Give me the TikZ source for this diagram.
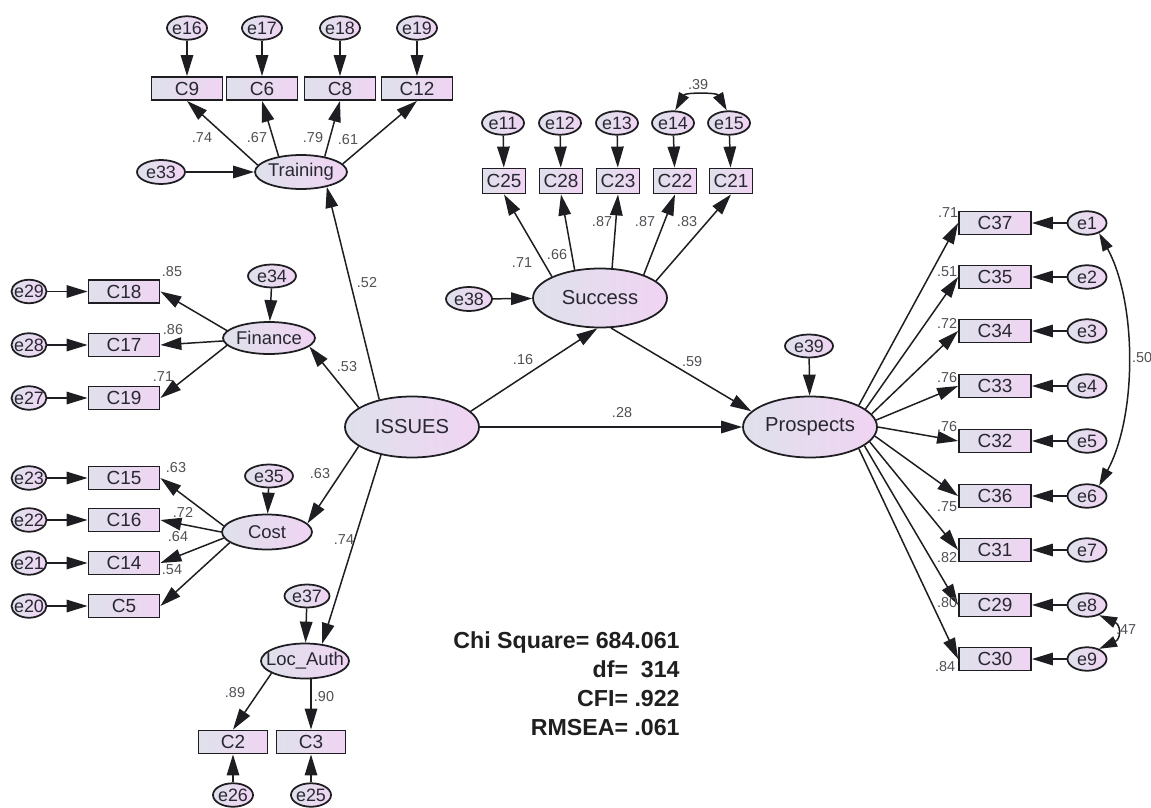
\documentclass[tikz,border=0pt]{standalone}
\usepackage{fontspec}
\setmainfont{Liberation Sans}
\usetikzlibrary{arrows.meta,shapes.geometric}
\definecolor{shadeleft}{RGB}{223,225,235}
\definecolor{shaderight}{RGB}{240,212,243}
\definecolor{rimgray}{RGB}{30,30,34}
\definecolor{inkgray}{RGB}{40,40,50}
\definecolor{coefgray}{RGB}{80,80,85}

\begin{document}
\begin{tikzpicture}[x=0.02cm, y=-0.02cm,
	latent/.style={ellipse, draw=rimgray, line width=1pt, left color=shadeleft, right color=shaderight, inner xsep=-5pt, inner ysep=0pt, text=inkgray},
	bigfactor/.style={latent, minimum width=2.68cm, minimum height=1.18cm, font=\fontsize{11.5}{13}\selectfont},
	factor/.style={latent, minimum width=1.8cm, minimum height=0.68cm, font=\fontsize{10.5}{12}\selectfont},
	resid/.style={latent, minimum width=0.8cm, minimum height=0.47cm, font=\fontsize{10.2}{11}\selectfont},
	residwide/.style={resid, minimum width=0.96cm, minimum height=0.48cm},
	residslim/.style={resid, minimum width=0.7cm},
	item/.style={rectangle, draw=rimgray, line width=1.05pt, left color=shadeleft, right color=shaderight, inner sep=0pt, minimum width=1.42cm, minimum height=0.46cm, font=\fontsize{10.8}{12}\selectfont, text=inkgray},
	itemsmall/.style={item, minimum width=0.86cm, minimum height=0.5cm},
	load/.style={draw=rimgray, line width=0.85pt, -{Triangle[length=0.42cm,width=0.25cm]}},
	covar/.style={draw=rimgray, line width=0.85pt, {Triangle[length=0.36cm,width=0.22cm]}-{Triangle[length=0.36cm,width=0.22cm]}},
	coef/.style={font=\fontsize{8.2}{9}\selectfont, text=coefgray, inner sep=0pt},
	fitline/.style={font=\bfseries\fontsize{13.2}{16}\selectfont, text=black!88, anchor=base east, inner sep=0pt}]
			%%%%% START %%%%%
			
			\useasboundingbox (0, 0) rectangle (1151, 807);
			
			% Training
			\node[resid] (e16) at (187, 28) {e16};
			\node[resid] (e17) at (262, 28) {e17};
			\node[resid] (e18) at (340, 28) {e18};
			\node[resid] (e19) at (417, 28) {e19};
			\node[item] (C9) at (187, 88.5) {C9};
			\node[item] (C6) at (262, 88.5) {C6};
			\node[item] (C8) at (340, 88.5) {C8};
			\node[item] (C12) at (417, 88.5) {C12};
			\node[factor, minimum width=1.84cm] (training) at (301, 172) {Training};
			\node[residwide] (e33) at (161, 172) {e33};
			
			\draw[load] (e16) -- (C9);
			\draw[load] (e17) -- (C6);
			\draw[load] (e18) -- (C8);
			\draw[load] (e19) -- (C12);
			\draw[load] (training.171) -- (C9.south);
			\draw[load] (training.145) -- (C6.south);
			\draw[load] (training.33) -- (C8.south);
			\draw[load] (training.11) -- (C12.south);
			\draw[load] (e33) -- (training);
			
			\node[coef] (l-c9) at (202, 138) {.74};
			\node[coef] (l-c6) at (257, 138) {.67};
			\node[coef] (l-c8) at (313, 138) {.79};
			\node[coef] (l-c12) at (348, 140) {.61};
			
			% Success
			\node[resid, minimum width=0.84cm] (e11) at (503, 123) {e11};
			\node[resid, minimum width=0.84cm] (e12) at (560, 123) {e12};
			\node[resid, minimum width=0.84cm] (e13) at (617, 123) {e13};
			\node[resid, minimum width=0.84cm] (e14) at (673, 123) {e14};
			\node[resid, minimum width=0.84cm] (e15) at (729, 123) {e15};
			\node[itemsmall] (C25) at (504, 181) {C25};
			\node[itemsmall] (C28) at (561, 181) {C28};
			\node[itemsmall] (C23) at (618, 181) {C23};
			\node[itemsmall] (C22) at (675, 181) {C22};
			\node[itemsmall] (C21) at (731, 181) {C21};
			\node[bigfactor] (success) at (600, 298) {Success};
			\node[residwide, minimum width=0.92cm] (e38) at (469, 299) {e38};
			
			\draw[load] (e11) -- (C25);
			\draw[load] (e12) -- (C28);
			\draw[load] (e13) -- (C23);
			\draw[load] (e14) -- (C22);
			\draw[load] (e15) -- (C21);
			\draw[covar] (e14.80) .. controls +(10, -18) and +(-10, -18) .. (e15.100);
			\draw[load] (success.156) -- (C25.south);
			\draw[load] (success.132) -- (C28.south);
			\draw[load] (success.68) -- (C23.south);
			\draw[load] (success.28) -- (C22.south);
			\draw[load] (success.17) -- (C21.south);
			\draw[load] (e38) -- (success);
			
			\node[coef] (l-cov1415) at (698, 85) {.39};
			\node[coef] (l-c25) at (522, 263) {.71};
			\node[coef] (l-c28) at (557, 255) {.66};
			\node[coef] (l-c23) at (602, 222) {.87};
			\node[coef] (l-c22) at (645, 222) {.87};
			\node[coef] (l-c21) at (687, 222) {.83};
			
			% Finance
			\node[residwide, minimum height=0.46cm] (e34) at (272, 276) {e34};
			\node[factor, minimum width=1.84cm, minimum height=0.64cm] (finance) at (269, 338) {Finance};
			\node[item] (C18) at (124, 291.5) {C18};
			\node[item] (C17) at (124, 345) {C17};
			\node[item] (C19) at (124, 398) {C19};
			\node[residslim] (e29) at (29, 291.5) {e29};
			\node[residslim] (e28) at (29, 345) {e28};
			\node[residslim] (e27) at (29, 398) {e27};
			
			\draw[load] (e34) -- (finance);
			\draw[load] (finance.170) -- (C18.east);
			\draw[load] (finance) -- (C17.east);
			\draw[load] (finance.190) -- (C19.east);
			\draw[load] (e29) -- (C18);
			\draw[load] (e28) -- (C17);
			\draw[load] (e27) -- (C19);
			
			\node[coef] (l-c18) at (172, 272) {.85};
			\node[coef] (l-c17) at (173, 330) {.86};
			\node[coef] (l-c19) at (163, 377) {.71};
			
			% Cost
			\node[residwide, minimum height=0.46cm] (e35) at (269, 476) {e35};
			\node[factor, minimum height=0.7cm] (cost) at (267, 532) {Cost};
			\node[item] (C15) at (124, 478) {C15};
			\node[item] (C16) at (124, 520) {C16};
			\node[item] (C14) at (124, 563) {C14};
			\node[item] (C5) at (124, 606) {C5};
			\node[residslim] (e23) at (29, 478) {e23};
			\node[residslim] (e22) at (29, 520) {e22};
			\node[residslim] (e21) at (29, 563) {e21};
			\node[residslim] (e20) at (29, 606) {e20};
			
			\draw[load] (e35) -- (cost);
			\draw[load] (cost.172) -- (C15.east);
			\draw[load] (cost.180) -- (C16.east);
			\draw[load] (cost.188) -- (C14.east);
			\draw[load] (cost.196) -- (C5.east);
			\draw[load] (e23) -- (C15);
			\draw[load] (e22) -- (C16);
			\draw[load] (e21) -- (C14);
			\draw[load] (e20) -- (C5);
			
			\node[coef] (l-c15) at (176, 468) {.63};
			\node[coef] (l-c16) at (183, 512) {.72};
			\node[coef] (l-c14) at (178, 537) {.64};
			\node[coef] (l-c5) at (172, 570) {.54};
			
			% Loc_Auth
			\node[residwide, minimum width=0.9cm, minimum height=0.46cm] (e37) at (307, 596) {e37};
			\node[factor, minimum width=1.76cm, minimum height=0.7cm] (loc) at (305, 661) {Loc\_Auth};
			\node[item, minimum width=1.38cm] (C2) at (233, 742) {C2};
			\node[item, minimum width=1.38cm] (C3) at (311, 742) {C3};
			\node[resid] (e26) at (233, 795) {e26};
			\node[resid] (e25) at (311, 795) {e25};
			
			\draw[load] (e37) -- (loc);
			\draw[load] (loc.200) -- (C2.north);
			\draw[load] (loc.south -| C3.north) -- (C3.north);
			\draw[load] (e26) -- (C2);
			\draw[load] (e25) -- (C3);
			
			\node[coef] (l-c2) at (235, 693) {.89};
			\node[coef] (l-c3) at (324, 697) {.90};
			
			% ISSUES and structural paths
			\node[bigfactor, minimum height=1.22cm] (issues) at (412, 427) {ISSUES};
			\node[bigfactor, minimum height=1.22cm] (prospects) at (810, 427) {Prospects};
			\node[residwide, minimum height=0.46cm] (e39) at (809, 346) {e39};
			
			\draw[load] (issues.140) -- (training.330);
			\draw[load] (issues.160) -- (finance.-12);
			\draw[load] (issues.200) -- (cost.12);
			\draw[load] (issues.222) -- (loc.45);
			\draw[load] (issues.15) -- (success.265);
			\draw[load] (success.290) -- (prospects.165);
			\draw[load] (issues) -- (prospects);
			\draw[load] (e39) -- (prospects);
			
			\node[coef] (l-training) at (367, 283) {.52};
			\node[coef] (l-finance) at (347, 367) {.53};
			\node[coef] (l-cost) at (320, 474) {.63};
			\node[coef] (l-loc) at (344, 540) {.74};
			\node[coef] (l-success) at (523, 360) {.16};
			\node[coef] (l-prosp) at (692, 362) {.59};
			\node[coef] (l-direct) at (622, 413) {.28};
			
			% Prospects
			\node[item, minimum width=1.44cm] (C37) at (995, 223) {C37};
			\node[item, minimum width=1.44cm] (C35) at (995, 277) {C35};
			\node[item, minimum width=1.44cm] (C34) at (995, 331) {C34};
			\node[item, minimum width=1.44cm] (C33) at (995, 386) {C33};
			\node[item, minimum width=1.44cm] (C32) at (995, 441) {C32};
			\node[item, minimum width=1.44cm] (C36) at (995, 496) {C36};
			\node[item, minimum width=1.44cm] (C31) at (995, 550) {C31};
			\node[item, minimum width=1.44cm] (C29) at (995, 605) {C29};
			\node[item, minimum width=1.44cm] (C30) at (995, 659) {C30};
			\node[resid, minimum width=0.78cm] (e1) at (1087, 223) {e1};
			\node[resid, minimum width=0.78cm] (e2) at (1087, 277) {e2};
			\node[resid, minimum width=0.78cm] (e3) at (1087, 331) {e3};
			\node[resid, minimum width=0.78cm] (e4) at (1087, 386) {e4};
			\node[resid, minimum width=0.78cm] (e5) at (1087, 441) {e5};
			\node[resid, minimum width=0.78cm] (e6) at (1087, 496) {e6};
			\node[resid, minimum width=0.78cm] (e7) at (1087, 550) {e7};
			\node[resid, minimum width=0.78cm] (e8) at (1087, 605) {e8};
			\node[resid, minimum width=0.78cm] (e9) at (1087, 659) {e9};
			
			\draw[load] (prospects.24) -- (C37.west);
			\draw[load] (prospects.18) -- (C35.west);
			\draw[load] (prospects.12) -- (C34.west);
			\draw[load] (prospects.6) -- (C33.west);
			\draw[load] (prospects.0) -- (C32.west);
			\draw[load] (prospects.-8) -- (C36.west);
			\draw[load] (prospects.-14) -- (C31.west);
			\draw[load] (prospects.-19) -- (C29.west);
			\draw[load] (prospects.-24) -- (C30.west);
			\draw[load] (e1) -- (C37);
			\draw[load] (e2) -- (C35);
			\draw[load] (e3) -- (C34);
			\draw[load] (e4) -- (C33);
			\draw[load] (e5) -- (C32);
			\draw[load] (e6) -- (C36);
			\draw[load] (e7) -- (C31);
			\draw[load] (e8) -- (C29);
			\draw[load] (e9) -- (C30);
			\draw[covar] (e1.-40) .. controls +(38, 70) and +(38, -70) .. (e6.40);
			\draw[covar] (e8.-40) .. controls +(22, 10) and +(22, -10) .. (e9.40);
			
			\node[coef] (l-c37) at (948, 213) {.71};
			\node[coef] (l-c35) at (947, 272) {.51};
			\node[coef] (l-c34) at (947, 323) {.72};
			\node[coef] (l-c33) at (947, 378) {.76};
			\node[coef] (l-c32) at (947, 427) {.76};
			\node[coef] (l-c36) at (947, 507) {.75};
			\node[coef] (l-c31) at (947, 558) {.82};
			\node[coef] (l-c29) at (947, 603) {.80};
			\node[coef] (l-c30) at (945, 667) {.84};
			\node[coef] (l-cov16) at (1142, 358) {.50};
			\node[coef] (l-cov89) at (1126, 630) {.47};
			
			% fit
			\node[fitline] (chisq) at (680, 648) {Chi Square= 684.061};
			\node[fitline] (df) at (680, 677) {df=\ \ 314};
			\node[fitline] (cfi) at (680, 706) {CFI= .922};
			\node[fitline] (rmsea) at (680, 735) {RMSEA= .061};
			
			%%%%% END %%%%%
\end{tikzpicture}
\end{document}
